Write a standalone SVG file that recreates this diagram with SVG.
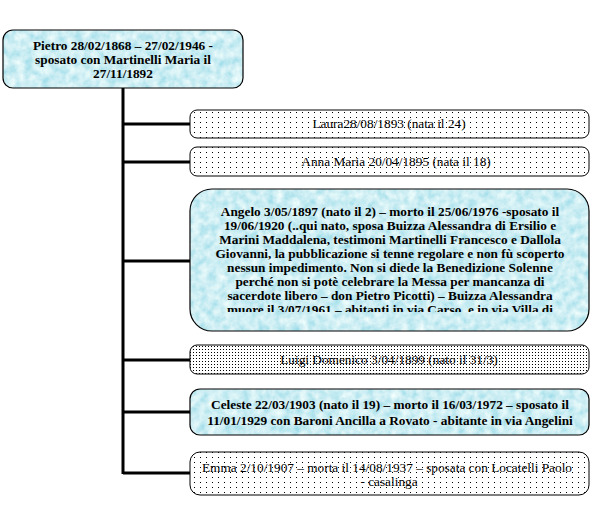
<svg xmlns="http://www.w3.org/2000/svg" width="612" height="514" viewBox="0 0 612 514">
<style>
.blue{stroke:#000;stroke-width:1.2}
.dot{fill:url(#dots);stroke:#000;stroke-width:1}
.dot2{fill:url(#dots2);stroke:#000;stroke-width:1}
.tb{font-family:"Liberation Serif","Times New Roman",serif;font-weight:bold;font-size:13.3px;fill:#000;text-anchor:middle}
.tr{font-family:"Liberation Serif","Times New Roman",serif;font-size:13.3px;fill:#000;text-anchor:middle}
.conn{stroke:#000;stroke-width:3;fill:none}
</style>
<defs>
<pattern id="dots" width="6" height="5" patternUnits="userSpaceOnUse">
<rect width="6" height="5" fill="#fff"/>
<rect x="2" y="2" width="1" height="1" fill="#000"/>
</pattern>
<pattern id="dots2" width="3" height="3" patternUnits="userSpaceOnUse">
<rect width="3" height="3" fill="#fff"/>
<rect x="1" y="1" width="1" height="1" fill="#000"/>
</pattern>
<filter id="water" x="0" y="0" width="1" height="1">
<feTurbulence type="fractalNoise" baseFrequency="0.12" numOctaves="3" seed="4" result="n"/>
<feColorMatrix in="n" type="matrix" values="0.7 0 0 0 0.26  0.35 0 0 0 0.68  0.2 0 0 0 0.8  0 0 0 0 1" result="c"/>
<feComposite in="c" in2="SourceGraphic" operator="in"/>
</filter>
<clipPath id="angClip"><rect x="190" y="189" width="399" height="123"/></clipPath>
</defs>

<g id="connectors">
<path class="conn" d="M123 88 V474 M123 124 H190 M123 162 H190 M123 261 H190 M123 360 H190 M123 412 H190 M123 473 H190"/>
</g>

<g id="pietro">
<rect x="3" y="30" width="240" height="58" rx="10" fill="#a8dcec" filter="url(#water)"/>
<rect class="blue" x="3" y="30" width="240" height="58" rx="10" fill="none"/>
<text class="tb" x="123" y="50">Pietro 28/02/1868 – 27/02/1946 -</text>
<text class="tb" x="123" y="64">sposato con Martinelli Maria il</text>
<text class="tb" x="123" y="78">27/11/1892</text>
</g>

<g id="laura">
<rect class="dot" x="190" y="110" width="399" height="28" rx="7"/>
<text class="tr" x="389" y="128">Laura28/08/1893 (nata il 24)</text>
</g>

<g id="anna">
<rect class="dot" x="190" y="147" width="399" height="29" rx="7"/>
<text class="tr" x="396" y="166">Anna Maria 20/04/1895 (nata il 18)</text>
</g>

<g id="angelo">
<rect x="190" y="189" width="399" height="142" rx="22" fill="#a8dcec" filter="url(#water)"/>
<rect class="blue" x="190" y="189" width="399" height="142" rx="22" fill="none"/>
<g clip-path="url(#angClip)">
<text class="tb" x="390" y="216">Angelo 3/05/1897 (nato il 2) – morto il 25/06/1976 -sposato il</text>
<text class="tb" x="390" y="230">19/06/1920 (..qui nato, sposa Buizza Alessandra di Ersilio e</text>
<text class="tb" x="390" y="244">Marini Maddalena, testimoni Martinelli Francesco e Dallola</text>
<text class="tb" x="390" y="258">Giovanni, la pubblicazione si tenne regolare e non fù scoperto</text>
<text class="tb" x="390" y="272">nessun impedimento. Non si diede la Benedizione Solenne</text>
<text class="tb" x="390" y="286">perché non si potè celebrare la Messa per mancanza di</text>
<text class="tb" x="390" y="300">sacerdote libero – don Pietro Picotti) – Buizza Alessandra</text>
<text class="tb" x="390" y="314">muore il 3/07/1961 – abitanti in via Carso, e in via Villa di</text>
</g>
</g>

<g id="luigi">
<rect class="dot2" x="190" y="345" width="399" height="29" rx="7"/>
<text class="tr" x="389" y="364">Luigi Domenico 3/04/1899 (nato il 31/3)</text>
</g>

<g id="celeste">
<rect x="190" y="389" width="399" height="46" rx="10" fill="#a8dcec" filter="url(#water)"/>
<rect class="blue" x="190" y="389" width="399" height="46" rx="10" fill="none"/>
<text class="tb" x="390" y="409">Celeste 22/03/1903 (nato il 19) – morto il 16/03/1972 – sposato il</text>
<text class="tb" x="390" y="425">11/01/1929 con Baroni Ancilla a Rovato - abitante in via Angelini</text>
</g>

<g id="emma">
<rect class="dot" x="190" y="452" width="399" height="43" rx="10"/>
<text class="tr" x="387" y="472">Emma 2/10/1907 – morta il 14/08/1937 – sposata con Locatelli Paolo</text>
<text class="tr" x="389" y="486">- casalinga</text>
</g>
</svg>
